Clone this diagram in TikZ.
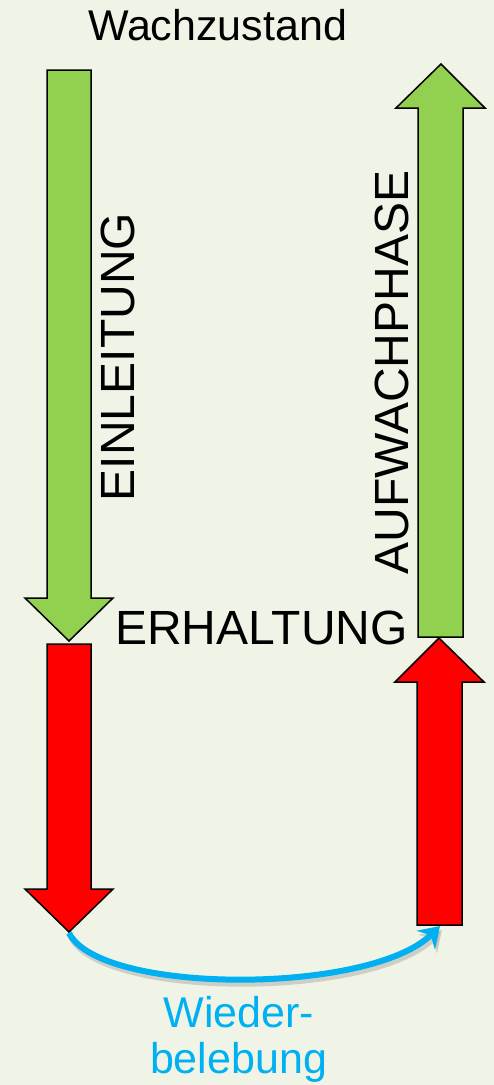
\documentclass[tikz,border=0pt]{standalone}
\usepackage{fontspec}
\setmainfont{Liberation Sans}
\usetikzlibrary{arrows.meta}
\definecolor{bgc}{RGB}{240,244,230}
\definecolor{agreen}{RGB}{146,208,80}
\definecolor{ared}{RGB}{255,0,0}
\definecolor{ablue}{RGB}{0,176,240}
\tikzset{
  arrowshape/.style={draw=black, line width=1.5pt, line join=miter},
  bigtext/.style={font=\fontsize{48}{52}\selectfont, text=black, inner sep=0pt},
  midtext/.style={font=\fontsize{43}{47}\selectfont, text=black, inner sep=0pt},
}
\begin{document}
\begin{tikzpicture}[x=1pt,y=-1pt]
\fill[bgc] (0,0) rectangle (494,1085);
\useasboundingbox (0,0) rectangle (494,1085);

% left green arrow (down)
\filldraw[arrowshape, fill=agreen] (47,70) -- (91,70) -- (91,598) -- (113,598) -- (69,641) -- (25,598) -- (47,598) -- cycle;
% left red arrow (down)
\filldraw[arrowshape, fill=ared] (47,644) -- (91,644) -- (91,889) -- (113,889) -- (69,932) -- (25,889) -- (47,889) -- cycle;
\coordinate (redtip) at (69,933);
% right green arrow (up)
\filldraw[arrowshape, fill=agreen] (418,637) -- (463,637) -- (463,108) -- (485,108) -- (441,64) -- (396,108) -- (418,108) -- cycle;
% right red arrow (up)
\filldraw[arrowshape, fill=ared] (417,925) -- (462,925) -- (462,682) -- (484,682) -- (439,638) -- (395,682) -- (417,682) -- cycle;
\coordinate (redbottom) at (440,926);

% Wiederbelebung connector with shadow
\draw[line width=6pt, black!45, opacity=0.35, -{Stealth[length=20pt,width=26pt,inset=7pt]}]
  ([shift={(2,4)}]redtip) .. controls (102,999) and (372,999) .. ([shift={(2,4)}]redbottom);
\draw[line width=6pt, ablue, -{Stealth[length=20pt,width=26pt,inset=7pt]}]
  (redtip) .. controls (100,995) and (370,995) .. (redbottom);

% texts
\node[midtext, anchor=base] (wach) at (217.5,40) {Wachzustand};
\node[bigtext, anchor=base] (erh) at (261.5,644) {ERHALTUNG};
\node[bigtext, anchor=base, rotate=90] (einl) at (134,357) {EINLEITUNG};
\node[bigtext, anchor=base, rotate=90] (aufw) at (408,372.5) {AUFWACHPHASE};
\node[midtext, anchor=base, text=ablue] (wied1) at (239,1027) {Wieder-};
\node[midtext, anchor=base, text=ablue] (wied2) at (238.5,1073) {belebung};
\end{tikzpicture}
\end{document}
